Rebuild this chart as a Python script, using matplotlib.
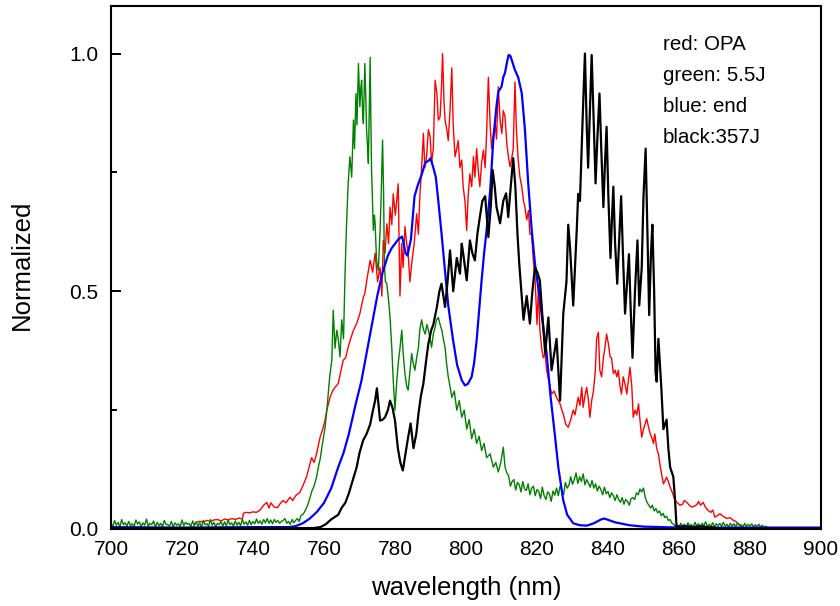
import numpy as np
import matplotlib
matplotlib.use("Agg")
import matplotlib.pyplot as plt
from matplotlib.ticker import MultipleLocator

plt.rcParams['font.family'] = ['Liberation Sans', 'DejaVu Sans']

# ---------------- data ----------------
blue_x = [700, 720, 740, 750, 752, 754, 756, 758, 760, 762, 764, 765.5, 767, 769, 770.5, 772, 773.5, 775,
          776.5, 778, 779, 780, 781, 782, 783, 783.5, 784.5, 785.5, 786.5, 787.5, 788.5, 789.5, 790, 790.8,
          791.5, 792.2, 793, 794, 795, 796.3, 797.5, 798.8, 799.7, 800.5, 801.6, 802.3, 803, 803.7, 804.4,
          805.1, 805.8, 806.8, 807.7, 808.6, 809.1, 810, 810.5, 811, 811.5, 812, 812.5, 812.9, 813.8, 814.7,
          815.7, 816.6, 817.5, 818.5, 819.4, 820.5, 821.5, 822.7, 823.8, 825, 826, 827.4, 828.5, 830.2, 832,
          834, 836, 838, 839, 840.5, 842, 843.4, 846, 850, 860, 880, 900]
blue_y = [0.004, 0.003, 0.004, 0.004, 0.006, 0.012, 0.022, 0.036, 0.055, 0.085, 0.13, 0.16, 0.2, 0.265, 0.31,
          0.37, 0.43, 0.49, 0.54, 0.575, 0.59, 0.6, 0.61, 0.615, 0.58, 0.575, 0.61, 0.70, 0.725, 0.745, 0.77,
          0.775, 0.78, 0.76, 0.74, 0.69, 0.63, 0.55, 0.47, 0.40, 0.345, 0.313, 0.302, 0.305, 0.32, 0.35, 0.397,
          0.46, 0.523, 0.58, 0.628, 0.71, 0.82, 0.89, 0.92, 0.93, 0.95, 0.96, 0.98, 0.997, 0.995, 0.986, 0.965,
          0.95, 0.917, 0.84, 0.73, 0.63, 0.56, 0.5, 0.44, 0.37, 0.28, 0.2, 0.13, 0.06, 0.03, 0.012, 0.008,
          0.007, 0.012, 0.02, 0.022, 0.018, 0.014, 0.012, 0.008, 0.005, 0.003, 0.003, 0.003]

black_x = [700, 757, 759, 760.5, 762, 763, 764, 765, 766, 767, 768, 769.2, 770, 771, 772, 773, 773.8, 774.4,
           774.9, 775.8, 776.5, 777.2, 778, 778.6, 779.3, 780, 780.8, 781.5, 782.2, 783, 783.7, 784.4, 785.2,
           786, 786.6, 787.3, 788, 788.7, 789.4, 790.2, 790.8, 791.8, 792.5, 793.1, 794.1, 794.8, 795.5, 796.4,
           797.4, 798.3, 798.8, 799.2, 800.2, 801.1, 801.8, 802.5, 803.2, 803.9, 804.6, 805.4, 806.3, 807,
           807.5, 808.1, 808.6, 809.6, 810.5, 811.3, 811.9, 812.6, 813.3, 813.9, 814.5, 815, 815.6, 816.2,
           817.1, 818, 818.7, 819.4, 820.1, 820.8, 821.5, 822.3, 823.2, 824.1, 825.5, 826.5, 827.4, 828.3,
           828.8, 829.3, 830.2, 831.2, 831.6, 832.1, 832.8, 833.5, 834, 834.4, 834.9, 835.4, 836, 836.5, 837,
           837.6, 838.1, 838.7, 839.1, 839.6, 840.1, 840.7, 841.1, 841.5, 842, 842.6, 843.1, 843.7, 844.2,
           844.8, 845.4, 845.9, 846.4, 846.9, 847.6, 848.3, 848.8, 849.5, 850, 850.6, 851.1, 851.6, 852.1,
           852.5, 853, 853.4, 853.7, 854.2, 855, 855.6, 856.5, 857, 857.5, 858.4, 858.9, 859.3, 860.5, 862,
           864, 866, 868, 870, 871, 900]
black_y = [0.002, 0.002, 0.004, 0.01, 0.02, 0.025, 0.03, 0.045, 0.055, 0.075, 0.1, 0.13, 0.16, 0.186, 0.2,
           0.22, 0.25, 0.27, 0.296, 0.228, 0.23, 0.235, 0.25, 0.27, 0.255, 0.228, 0.17, 0.14, 0.123, 0.16,
           0.193, 0.222, 0.17, 0.2, 0.242, 0.28, 0.306, 0.35, 0.39, 0.418, 0.43, 0.467, 0.5, 0.516, 0.467,
           0.52, 0.586, 0.5, 0.57, 0.537, 0.60, 0.58, 0.523, 0.607, 0.58, 0.565, 0.62, 0.656, 0.69, 0.70,
           0.614, 0.68, 0.755, 0.72, 0.677, 0.643, 0.69, 0.706, 0.656, 0.72, 0.78, 0.72, 0.62, 0.558, 0.5,
           0.44, 0.49, 0.432, 0.5, 0.55, 0.54, 0.523, 0.45, 0.37, 0.445, 0.334, 0.40, 0.27, 0.453, 0.52, 0.64,
           0.593, 0.47, 0.63, 0.705, 0.69, 0.85, 1.0, 0.85, 0.76, 0.88, 0.997, 0.85, 0.727, 0.82, 0.916, 0.8,
           0.677, 0.76, 0.846, 0.7, 0.57, 0.65, 0.72, 0.6, 0.516, 0.6, 0.70, 0.58, 0.453, 0.52, 0.578, 0.46,
           0.36, 0.5, 0.607, 0.47, 0.55, 0.7, 0.80, 0.62, 0.45, 0.58, 0.64, 0.5, 0.33, 0.31, 0.40, 0.3, 0.21,
           0.23, 0.17, 0.13, 0.11, 0.06, 0.006, 0.005, 0.006, 0.004, 0.006, 0.004, 0.003, 0.001, 0.001]

red_x = [700, 723, 724, 725, 726, 727, 728, 729, 730, 731, 732, 733, 734, 735, 736, 737, 737.3, 738, 739, 740,
         741, 742, 743, 743.9, 744.5, 745, 746, 747, 747.6, 748.5, 749.3, 750.4, 751.2, 752, 753.2, 754, 755.1,
         755.8, 756.5, 757.2, 757.9, 758.4, 758.9, 759.8, 760.3, 760.8, 761.3, 761.7, 762.4, 763.1, 764, 764.7,
         765.4, 766.1, 766.8, 767.5, 768.3, 769.2, 770.1, 771.1, 771.5, 772.2, 773, 773.7, 774.4, 775.1, 775.8,
         776.3, 776.7, 777.2, 777.7, 778.2, 778.6, 779.1, 779.5, 780.1, 780.9, 781.4, 781.9, 782.3, 782.8,
         783.3, 783.7, 784.2, 784.7, 785.4, 786.1, 786.6, 787, 787.5, 788, 788.4, 788.9, 789.4, 789.9, 790.3,
         790.8, 791.3, 791.8, 792.2, 792.7, 793.1, 793.4, 793.8, 794.1, 794.6, 795, 795.5, 796, 796.4, 796.9,
         797.4, 797.8, 798.3, 798.8, 799.2, 799.7, 800.2, 800.6, 801.1, 801.6, 802.1, 802.5, 803, 803.5,
         803.9, 804.4, 804.9, 805.4, 805.8, 806.3, 806.8, 807.2, 807.7, 808.2, 808.6, 809.1, 809.6, 810.1,
         810.5, 811, 811.5, 812, 812.4, 812.9, 813.3, 813.8, 814.2, 814.7, 815.2, 815.7, 816.2, 816.6, 817.1,
         817.6, 818, 818.5, 819, 819.4, 820, 820.4, 820.8, 821.3, 821.8, 822.3, 822.7, 823.4, 824.1, 824.8,
         825.5, 826, 826.5, 827, 827.4, 828.1, 828.8, 829.5, 830.2, 830.7, 831.6, 832.1, 832.6, 833, 833.5,
         834, 834.5, 834.9, 835.4, 835.9, 836.4, 836.8, 837.3, 837.7, 838.2, 838.7, 839.1, 839.6, 840.1,
         840.6, 841, 841.5, 842, 842.5, 842.9, 843.4, 843.8, 844.3, 844.8, 845.3, 845.7, 846.2, 846.7, 847.1,
         847.6, 848.1, 848.6, 849, 849.5, 850, 850.4, 850.9, 851.4, 851.9, 852.3, 852.8, 853.2, 853.7, 854.2,
         854.6, 855.1, 855.6, 856, 856.5, 857, 857.5, 858.2, 858.9, 859.6, 860.3, 861, 861.5, 862.2, 862.9,
         863.6, 864.3, 865, 865.5, 866.1, 866.8, 867.5, 868.2, 869, 869.5, 870.1, 870.8, 871.5, 872.4, 873.4,
         874.4, 875.3, 876, 876.7, 877.6, 878.5, 900]
red_y = [0.001, 0.002, 0.014, 0.016, 0.015, 0.018, 0.016, 0.019, 0.02, 0.017, 0.021, 0.019, 0.022, 0.02, 0.023,
         0.021, 0.033, 0.035, 0.034, 0.036, 0.035, 0.04, 0.05, 0.056, 0.044, 0.055, 0.046, 0.045, 0.053, 0.06,
         0.055, 0.067, 0.06, 0.07, 0.077, 0.09, 0.11, 0.13, 0.15, 0.14, 0.158, 0.175, 0.193, 0.214, 0.23, 0.25,
         0.265, 0.277, 0.29, 0.298, 0.306, 0.33, 0.355, 0.36, 0.382, 0.4, 0.418, 0.432, 0.453, 0.488, 0.495,
         0.53, 0.565, 0.54, 0.58, 0.52, 0.55, 0.49, 0.607, 0.58, 0.642, 0.6, 0.677, 0.64, 0.705, 0.66, 0.726,
         0.49, 0.6, 0.55, 0.636, 0.6, 0.58, 0.52, 0.558, 0.6, 0.663, 0.62, 0.70, 0.76, 0.832, 0.76, 0.783,
         0.84, 0.825, 0.77, 0.80, 0.944, 0.916, 0.86, 0.867, 0.93, 1.0, 0.9, 0.86, 0.84, 0.817, 0.88, 0.97,
         0.85, 0.783, 0.8, 0.817, 0.76, 0.776, 0.72, 0.69, 0.628, 0.7, 0.747, 0.72, 0.783, 0.74, 0.80, 0.75,
         0.72, 0.77, 0.797, 0.76, 0.832, 0.95, 0.85, 0.80, 0.83, 0.853, 0.82, 0.93, 0.86, 0.832, 0.88, 0.867,
         0.81, 0.78, 0.762, 0.78, 0.80, 0.94, 0.84, 0.776, 0.74, 0.72, 0.69, 0.677, 0.65, 0.67, 0.62, 0.62,
         0.56, 0.537, 0.43, 0.51, 0.42, 0.38, 0.36, 0.37, 0.334, 0.31, 0.284, 0.29, 0.277, 0.27, 0.263, 0.25,
         0.242, 0.22, 0.214, 0.23, 0.25, 0.24, 0.277, 0.26, 0.298, 0.256, 0.28, 0.298, 0.27, 0.235, 0.27,
         0.29, 0.33, 0.40, 0.414, 0.334, 0.32, 0.36, 0.38, 0.41, 0.39, 0.362, 0.36, 0.327, 0.334, 0.32, 0.334,
         0.3, 0.284, 0.32, 0.305, 0.284, 0.31, 0.34, 0.3, 0.235, 0.25, 0.24, 0.263, 0.23, 0.193, 0.21, 0.22,
         0.232, 0.215, 0.2, 0.193, 0.18, 0.2, 0.17, 0.158, 0.137, 0.115, 0.095, 0.1, 0.109, 0.1, 0.088, 0.075,
         0.06, 0.055, 0.05, 0.052, 0.06, 0.056, 0.05, 0.046, 0.048, 0.051, 0.058, 0.05, 0.056, 0.045, 0.039,
         0.035, 0.04, 0.025, 0.028, 0.032, 0.027, 0.022, 0.024, 0.018, 0.016, 0.011, 0.005, 0.002, 0.002]

# green: noisy baseline sampled every 0.5 nm from 700 nm
green_base_start = 700.0
green_base_y = [0.012, 0.005, 0.018, 0.008, 0.014, 0.004, 0.02, 0.009, 0.013, 0.006, 0.016, 0.007, 0.011,
                0.004, 0.019, 0.01, 0.015, 0.005, 0.013, 0.008, 0.021, 0.006, 0.012, 0.009, 0.017, 0.004,
                0.014, 0.007, 0.012, 0.005, 0.018, 0.01, 0.009, 0.006, 0.016, 0.004, 0.013, 0.008, 0.011,
                0.005, 0.019, 0.007, 0.014, 0.01, 0.012, 0.005, 0.017, 0.008, 0.015, 0.006, 0.013, 0.004,
                0.018, 0.009, 0.011, 0.006, 0.02, 0.008, 0.014, 0.005, 0.012, 0.009, 0.016, 0.006, 0.015,
                0.007, 0.019, 0.009, 0.013, 0.006, 0.017, 0.008, 0.014, 0.007, 0.02, 0.01, 0.015, 0.008,
                0.018, 0.009, 0.016, 0.011, 0.021, 0.012, 0.017, 0.01, 0.02, 0.013, 0.022, 0.012, 0.019,
                0.011, 0.02, 0.014, 0.018, 0.012, 0.016]
green_peak_x = [748.5, 749, 749.5, 750, 750.5, 751, 751.5, 752, 752.5, 753, 753.5, 754.2, 754.8, 755.4, 756.1,
                756.6, 757.2, 757.9, 758.4, 759, 759.4, 759.8, 760.3, 760.8, 761.2, 761.6, 762.2, 762.6,
                763.1, 763.6, 764, 764.5, 765, 765.5, 765.9, 766.3, 766.8, 767.3, 767.8, 768.3, 768.6, 769,
                769.3, 769.7, 770.1, 770.4, 770.6, 770.9, 771.1, 771.5, 771.8, 772, 772.3, 772.5, 772.8,
                773, 773.2, 773.4, 773.7, 773.9, 774.2, 774.4, 774.8, 775.3, 775.8, 776.1, 776.5, 776.8,
                777, 777.3, 777.7, 778.2, 778.6, 779.1, 779.5, 780, 780.4, 780.9, 781.4, 781.9, 782.3,
                782.8, 783.3, 783.7, 784.2, 784.7, 785.1, 785.6, 786.1, 786.6, 787, 787.5, 788, 788.5, 789,
                789.4, 789.9, 790.3, 790.8, 791.3, 791.7, 792.2, 792.7, 793.2, 793.6, 794.1, 794.5, 795,
                795.5, 796, 796.7, 797.4, 798.1, 798.8, 799.5, 800.2, 800.9, 801.6, 802.3, 803, 803.7,
                804.4, 805.1, 805.8, 806.8, 807.7, 808.4, 809.1, 809.8, 810.5, 811, 811.5]
green_peak_y = [0.018, 0.022, 0.012, 0.016, 0.01, 0.02, 0.013, 0.018, 0.022, 0.016, 0.028, 0.032, 0.04, 0.05,
                0.067, 0.08, 0.09, 0.109, 0.13, 0.15, 0.172, 0.19, 0.214, 0.25, 0.284, 0.32, 0.355, 0.46,
                0.38, 0.418, 0.4, 0.362, 0.44, 0.4, 0.53, 0.63, 0.726, 0.783, 0.74, 0.86, 0.8, 0.916, 0.85,
                0.979, 0.888, 0.93, 0.944, 0.87, 0.853, 0.979, 0.9, 0.839, 0.8, 0.769, 0.9, 0.992, 0.86,
                0.755, 0.68, 0.628, 0.66, 0.643, 0.565, 0.544, 0.628, 0.7, 0.818, 0.7, 0.558, 0.52, 0.516,
                0.48, 0.445, 0.38, 0.313, 0.25, 0.3, 0.348, 0.38, 0.418, 0.37, 0.327, 0.3, 0.292, 0.33,
                0.369, 0.35, 0.334, 0.36, 0.382, 0.42, 0.44, 0.42, 0.41, 0.43, 0.418, 0.4, 0.382, 0.41,
                0.425, 0.44, 0.445, 0.43, 0.418, 0.4, 0.382, 0.35, 0.32, 0.3, 0.277, 0.29, 0.25, 0.27,
                0.235, 0.25, 0.21, 0.23, 0.19, 0.21, 0.18, 0.195, 0.165, 0.18, 0.15, 0.158, 0.13, 0.14,
                0.12, 0.14, 0.172, 0.13, 0.118]
# green tail sampled every 0.5 nm from 812 nm
green_tail_start = 812.0
green_tail_y = [0.112, 0.09, 0.1, 0.104, 0.082, 0.098, 0.093, 0.078, 0.1, 0.084, 0.081, 0.095, 0.072, 0.086,
                0.09, 0.07, 0.083, 0.079, 0.064, 0.088, 0.07, 0.062, 0.078, 0.074, 0.058, 0.08, 0.071, 0.086,
                0.07, 0.09, 0.083, 0.072, 0.098, 0.086, 0.092, 0.11, 0.094, 0.104, 0.118, 0.096, 0.11, 0.1,
                0.116, 0.093, 0.104, 0.096, 0.088, 0.102, 0.086, 0.095, 0.08, 0.09, 0.083, 0.072, 0.088,
                0.074, 0.079, 0.066, 0.076, 0.07, 0.06, 0.072, 0.062, 0.056, 0.066, 0.052, 0.062, 0.058,
                0.05, 0.064, 0.066, 0.062, 0.076, 0.072, 0.084, 0.078, 0.086, 0.066, 0.056, 0.05, 0.044,
                0.05, 0.038, 0.043, 0.034, 0.038, 0.028, 0.033, 0.024, 0.027, 0.018, 0.02, 0.012, 0.01,
                0.005,
                0.008, 0.004, 0.012, 0.006, 0.01, 0.003, 0.013, 0.007, 0.009, 0.004, 0.014, 0.006, 0.011,
                0.005, 0.012, 0.007, 0.015, 0.005, 0.01, 0.006, 0.013, 0.004, 0.011, 0.007, 0.012, 0.005,
                0.014, 0.006, 0.01, 0.004, 0.012, 0.006, 0.011, 0.005, 0.013, 0.007, 0.009, 0.004, 0.012,
                0.005, 0.01, 0.006, 0.011, 0.004, 0.009, 0.005, 0.01, 0.004, 0.008, 0.003, 0.006, 0.002,
                0.002, 0.001]
green_end_x = [900]
green_end_y = [0.001]

legend_lines = ["red: OPA", "green: 5.5J", "blue: end", "black:357J"]
x_ticks = [700, 720, 740, 760, 780, 800, 820, 840, 860, 880, 900]
y_ticks = [0.0, 0.5, 1.0]

# ---------------- assemble green ----------------
gb_x = green_base_start + 0.5 * np.arange(len(green_base_y))
gt_x = green_tail_start + 0.5 * np.arange(len(green_tail_y))
green_x = np.concatenate([gb_x, green_peak_x, gt_x, green_end_x])
green_y = np.concatenate([green_base_y, green_peak_y, green_tail_y, green_end_y])

# ---------------- figure ----------------
fig = plt.figure(figsize=(8.4, 6.06), dpi=100)
ax = fig.add_axes([111 / 840, 1 - 529 / 606, 710 / 840, 523 / 606])

ax.plot(red_x, red_y, color='#ff0000', lw=1.0)
ax.plot(green_x, green_y, color='#008000', lw=1.0)
ax.plot(blue_x, blue_y, color='#0000ff', lw=1.6)
ax.plot(black_x, black_y, color='black', lw=1.6)

ax.set_xlim(700, 900)
ax.set_ylim(0, 1.1)
ax.set_xticks(x_ticks)
ax.set_yticks(y_ticks)
ax.set_yticklabels([f"{v:.1f}" for v in y_ticks])
ax.yaxis.set_minor_locator(MultipleLocator(0.25))

ax.tick_params(axis='x', which='both', length=0, pad=8, labelsize=15)
ax.tick_params(axis='y', which='major', direction='in', length=7.5, width=1.4, pad=9, labelsize=15)
ax.tick_params(axis='y', which='minor', direction='in', length=4, width=1.4)
for s in ax.spines.values():
    s.set_linewidth(1.5)

ax.set_xlabel("wavelength (nm)", fontsize=18.5)
ax.set_ylabel("Normalized", fontsize=18.5)
ax.xaxis.set_label_coords(0.5, -0.09)
ax.yaxis.set_label_coords(-0.109, 0.505)

base_y = [0.916, 0.8566, 0.7973, 0.738]
for txt, yy in zip(legend_lines, base_y):
    ax.text(0.7775, yy, txt, transform=ax.transAxes, fontsize=14.8, va='baseline', ha='left')

fig.savefig("out.png", dpi=100)
